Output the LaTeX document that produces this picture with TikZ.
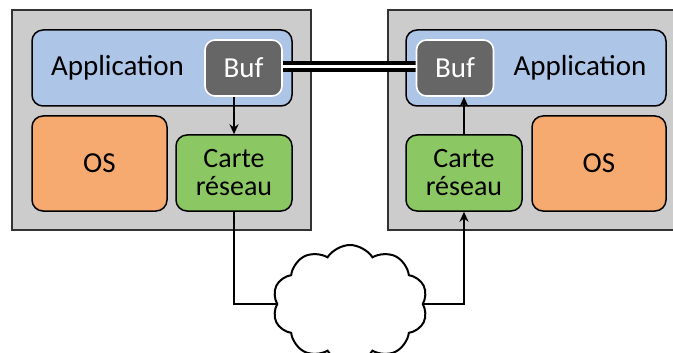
\documentclass[tikz,border=0pt]{standalone}
\usepackage{fontspec}
\setmainfont{Carlito}
\usetikzlibrary{shapes.symbols,arrows.meta}
\definecolor{hostgray}{RGB}{204,204,204}
\definecolor{appblue}{RGB}{173,197,231}
\definecolor{osorange}{RGB}{247,170,112}
\definecolor{nicgreen}{RGB}{139,200,99}
\definecolor{bufgray}{RGB}{102,102,102}
\tikzset{
  host/.style={draw=black!80, fill=hostgray, line width=1.2pt, minimum width=299, minimum height=220, inner sep=0},
  part/.style={draw, line width=1.5pt, rounded corners=11pt, inner sep=0, font=\fontsize{29}{31}\selectfont, align=center},
  nic/.style={part, fill=nicgreen, minimum width=116, minimum height=76, font=\fontsize{28}{28}\selectfont},
  buf/.style={draw=white, fill=bufgray, text=white, line width=1.6pt, rounded corners=10pt, minimum width=77, minimum height=56, inner sep=0, font=\fontsize{29}{31}\selectfont},
  wire/.style={line width=2.5pt, -{Stealth[length=10pt,width=9pt]}}
}
\begin{document}
\begin{tikzpicture}[x=1pt,y=-1pt]
    \useasboundingbox (0,0) rectangle (673,353);
    % machines
    \node[host] (hostA) at (161.5,120) {};
    \node[host] (hostB) at (537.5,120) {};
    \node[part, fill=appblue, minimum width=260, minimum height=76] (appA) at (162,68) {};
    \node[part, fill=appblue, minimum width=260, minimum height=76] (appB) at (536,68) {};
    \node[font=\fontsize{29}{31}\selectfont] (appAtxt) at (117.5,68) {Application};
    \node[font=\fontsize{29}{31}\selectfont] (appBtxt) at (580,68) {Application};
    \node[part, fill=osorange, minimum width=135, minimum height=95] (osA) at (99.5,163.5) {OS};
    \node[part, fill=osorange, minimum width=134, minimum height=95] (osB) at (599,163.5) {OS};
    \node[nic] (nicA) at (234,173) {Carte\\réseau};
    \node[nic] (nicB) at (464,173) {Carte\\réseau};
    % shared buffer link
    \draw[double, double distance=3, line width=4] (243.5,66.5) -- (455,66.5);
    \node[buf] (bufA) at (243.5,68) {Buf};
    \node[buf] (bufB) at (455,68) {Buf};
    % network
    \node[cloud, draw, line width=2pt, fill=white, cloud puffs=10, cloud puff arc=115, aspect=1.4, minimum width=155, minimum height=118] (net) at (350,304) {};
    \draw[wire] (bufA.south -| nicA.north) -- (nicA.north);
    \draw[wire] (nicB.north) -- (bufB.south -| nicB.north);
    \draw[line width=2.5pt] (nicA.south) |- (net.west);
    \draw[wire] (net.east) -| (nicB.south);
  \end{tikzpicture}
\end{document}
